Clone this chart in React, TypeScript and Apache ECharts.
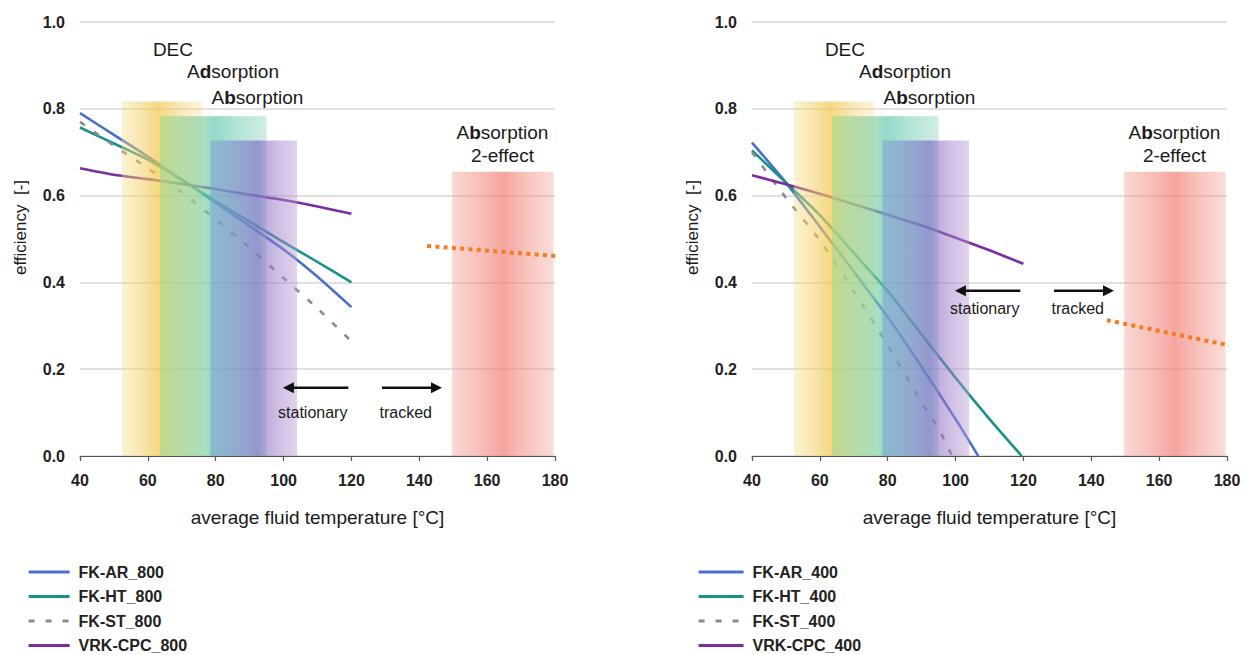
import React, { useEffect, useRef } from 'react';
import * as echarts from 'echarts';

// ---------- data ----------
const temps = [40, 50, 60, 70, 80, 90, 100, 110, 120];
const fkAr800 = [0.79, 0.74, 0.69, 0.637, 0.583, 0.53, 0.476, 0.413, 0.343];
const fkHt800 = [0.757, 0.72, 0.683, 0.636, 0.587, 0.54, 0.493, 0.447, 0.4];
const fkSt800 = [0.77, 0.715, 0.663, 0.607, 0.545, 0.48, 0.41, 0.34, 0.264];
const vrk800 = [0.663, 0.648, 0.638, 0.627, 0.615, 0.602, 0.59, 0.575, 0.558];

const arX400 = [40, 50, 60, 70, 80, 90, 100, 106.7];
const fkAr400 = [0.722, 0.63, 0.528, 0.425, 0.32, 0.205, 0.085, 0.0];
const htX400 = [40, 50, 60, 70, 80, 90, 100, 110, 119.5];
const fkHt400 = [0.704, 0.63, 0.555, 0.468, 0.38, 0.28, 0.18, 0.085, 0.0];
const stX400 = [40, 50, 60, 70, 80, 90, 95, 99];
const fkSt400 = [0.7, 0.595, 0.497, 0.38, 0.255, 0.123, 0.063, 0.0];
const vrk400 = [0.647, 0.626, 0.604, 0.58, 0.556, 0.531, 0.503, 0.474, 0.443];

const orangeX800 = [142.3, 185];
const orange800 = [0.484, 0.458];
const orangeX400 = [144.6, 184.4];
const orange400 = [0.313, 0.249];

const bandStart = [52.3, 63.6, 78.4, 149.7];
const bandEnd = [76.3, 95.0, 104.0, 179.6];
const bandTop = [0.817, 0.783, 0.727, 0.655];

const bandLabels = [
  '{n|DEC}',
  '{n|A}{b|d}{n|sorption}',
  '{n|A}{b|b}{n|sorption}',
  '{n|A}{b|b}{n|sorption}\n{n|2-effect}',
];
const bandLabelX = [67.4, 85.1, 92.3, 164.5];
const bandLabelY = [0.937, 0.887, 0.826, 0.718];

const arrowTail = [119.1, 129.0];
const arrowTip = [99.8, 146.7];
const arrowY800 = 0.157;
const arrowY400 = 0.381;
const arrowLabels = ['stationary', 'tracked'];
const arrowLabelX = [108.6, 136.0];
const arrowLabelY800 = 0.1;
const arrowLabelY400 = 0.341;

const xTicks = { min: 40, max: 180, interval: 20 };
const yTicks = { min: 0, max: 1, interval: 0.2 };

// ---------- styles ----------
const FONT = "'Liberation Sans', Arial, Helvetica, sans-serif";
const C_AR = '#4a70c8';
const C_HT = '#1a9189';
const C_ST = '#8a8a8a';
const C_VRK = '#7b2d9f';
const C_OR = '#f47b20';

const bandStops = [
  [
    { offset: 0, color: 'rgba(247,218,130,0.35)' },
    { offset: 0.45, color: 'rgba(240,200,80,0.72)' },
    { offset: 1, color: 'rgba(247,222,150,0.3)' },
  ],
  [
    { offset: 0, color: 'rgba(160,215,140,0.6)' },
    { offset: 0.4, color: 'rgba(120,205,160,0.62)' },
    { offset: 0.5, color: 'rgba(95,200,175,0.68)' },
    { offset: 1, color: 'rgba(150,215,195,0.45)' },
  ],
  [
    { offset: 0, color: 'rgba(130,150,210,0.45)' },
    { offset: 0.55, color: 'rgba(115,100,195,0.62)' },
    { offset: 0.65, color: 'rgba(140,110,195,0.55)' },
    { offset: 1, color: 'rgba(190,160,215,0.45)' },
  ],
  [
    { offset: 0, color: 'rgba(245,160,150,0.42)' },
    { offset: 0.5, color: 'rgba(240,118,108,0.66)' },
    { offset: 1, color: 'rgba(245,165,155,0.38)' },
  ],
];

const pairs = (xs: number[], ys: number[]) => xs.map((x, i) => [x, ys[i]]);

function buildPanel(idx: number) {
  const is800 = idx === 0;
  const suffix = is800 ? '_800' : '_400';
  const ax = { xAxisIndex: idx, yAxisIndex: idx };
  const lineBase = (name: string, color: string, data: number[][], dashed = false) => ({
    type: 'line',
    name,
    ...ax,
    data,
    symbol: 'none',
    smooth: 0.2,
    z: 2,
    lineStyle: { color, width: 2.6, type: dashed ? [6, 11] : 'solid' },
    itemStyle: { color },
  });
  const series: any[] = [
    lineBase('FK-AR' + suffix, C_AR, is800 ? pairs(temps, fkAr800) : pairs(arX400, fkAr400)),
    lineBase('FK-HT' + suffix, C_HT, is800 ? pairs(temps, fkHt800) : pairs(htX400, fkHt400)),
    lineBase('FK-ST' + suffix, C_ST, is800 ? pairs(temps, fkSt800) : pairs(stX400, fkSt400), true),
    lineBase('VRK-CPC' + suffix, C_VRK, is800 ? pairs(temps, vrk800) : pairs(temps, vrk400)),
    {
      type: 'line',
      name: 'orange' + suffix,
      ...ax,
      data: is800 ? pairs(orangeX800, orange800) : pairs(orangeX400, orange400),
      symbol: 'none',
      clip: false,
      z: 4,
      lineStyle: { color: C_OR, width: 4, type: [4, 4.3], cap: 'butt' },
    },
    {
      type: 'custom',
      name: 'bands' + suffix,
      ...ax,
      z: 3,
      clip: false,
      encode: { x: [0, 1], y: 2 },
      data: bandStart.map((s, i) => [s, bandEnd[i], bandTop[i], i]),
      renderItem: (params: any, api: any) => {
        const i = api.value(3);
        const p0 = api.coord([api.value(0), api.value(2)]);
        const p1 = api.coord([api.value(1), 0]);
        return {
          type: 'rect',
          shape: { x: p0[0], y: p0[1], width: p1[0] - p0[0], height: p1[1] - p0[1] },
          style: { fill: new echarts.graphic.LinearGradient(0, 0, 1, 0, bandStops[i]) },
        };
      },
    },
    {
      type: 'custom',
      name: 'bandLabels' + suffix,
      ...ax,
      z: 5,
      clip: false,
      encode: { x: 0, y: 1 },
      data: bandLabelX.map((x, i) => [x, bandLabelY[i], i]),
      renderItem: (params: any, api: any) => {
        const i = api.value(2);
        const p = api.coord([api.value(0), api.value(1)]);
        return {
          type: 'text',
          x: p[0],
          y: p[1],
          style: {
            text: bandLabels[i],
            fill: '#1a1a1a',
            align: 'center',
            verticalAlign: 'middle',
            fontSize: 19,
            fontFamily: FONT,
            lineHeight: 23,
            rich: {
              n: { fontSize: 19, fontFamily: FONT, fontWeight: 'normal', fill: '#1a1a1a', lineHeight: 23 },
              b: { fontSize: 19, fontFamily: FONT, fontWeight: 'bold', fill: '#1a1a1a', lineHeight: 23 },
            },
          },
        };
      },
    },
    {
      type: 'custom',
      name: 'arrows' + suffix,
      ...ax,
      z: 5,
      clip: false,
      encode: { x: [0, 1], y: 2 },
      data: arrowTail.map((t, i) => [t, arrowTip[i], is800 ? arrowY800 : arrowY400]),
      renderItem: (params: any, api: any) => {
        const a = api.coord([api.value(0), api.value(2)]);
        const b = api.coord([api.value(1), api.value(2)]);
        const dir = b[0] > a[0] ? 1 : -1;
        const hl = 11;
        const hh = 5.5;
        return {
          type: 'group',
          children: [
            {
              type: 'line',
              shape: { x1: a[0], y1: a[1], x2: b[0] - dir * hl + dir, y2: b[1] },
              style: { stroke: '#111', lineWidth: 2.5 },
            },
            {
              type: 'polygon',
              shape: { points: [[b[0], b[1]], [b[0] - dir * hl, b[1] - hh], [b[0] - dir * hl, b[1] + hh]] },
              style: { fill: '#111' },
            },
          ],
        };
      },
    },
    {
      type: 'custom',
      name: 'arrowLabels' + suffix,
      ...ax,
      z: 5,
      clip: false,
      encode: { x: 0, y: 1 },
      data: arrowLabelX.map((x, i) => [x, is800 ? arrowLabelY800 : arrowLabelY400, i]),
      renderItem: (params: any, api: any) => {
        const i = api.value(2);
        const p = api.coord([api.value(0), api.value(1)]);
        return {
          type: 'text',
          x: p[0],
          y: p[1],
          style: {
            text: arrowLabels[i],
            fill: '#1a1a1a',
            align: 'center',
            verticalAlign: 'middle',
            fontSize: 16,
            fontFamily: FONT,
          },
        };
      },
    },
  ];
  return series;
}

const axisX = (gridIndex: number) => ({
  type: 'value',
  gridIndex,
  ...xTicks,
  name: 'average fluid temperature [°C]',
  nameLocation: 'middle',
  nameGap: 52,
  nameTextStyle: { fontSize: 19, fontFamily: FONT, color: '#1a1a1a' },
  axisLine: { show: true, lineStyle: { color: '#555', width: 1.2 } },
  axisTick: { show: true, length: 5, lineStyle: { color: '#555', width: 1.2 } },
  axisLabel: { fontSize: 16, fontWeight: 'bold', fontFamily: FONT, color: '#222', margin: 16 },
  splitLine: { show: false },
});

const axisY = (gridIndex: number) => ({
  type: 'value',
  gridIndex,
  ...yTicks,
  name: 'efficiency  [-]',
  nameLocation: 'middle',
  nameGap: 51,
  nameTextStyle: { fontSize: 17, fontFamily: FONT, color: '#1a1a1a', padding: [0, 0, 0, 23] },
  axisLine: { show: false },
  axisTick: { show: false },
  axisLabel: {
    fontSize: 16,
    fontWeight: 'bold',
    fontFamily: FONT,
    color: '#222',
    margin: 15,
    formatter: (v: number) => v.toFixed(1),
  },
  splitLine: { show: true, lineStyle: { color: '#d6d6d6', width: 1.5 } },
});

const legendBase = (left: number, names: string[], itemWidth: number) => ({
  data: names,
  orient: 'vertical',
  left,
  top: 564,
  height: 200,
  padding: 0,
  itemWidth,
  itemHeight: 12,
  itemGap: 8.5,
  selectedMode: false,
  itemStyle: { opacity: 0, color: 'rgba(0,0,0,0)', borderWidth: 0 },
  lineStyle: { width: 3.2 },
  textStyle: { fontSize: 16, fontWeight: 'bold', fontFamily: FONT, color: '#222', padding: [0, 0, 0, 4] },
});

export default function App() {
  const ref = useRef<HTMLDivElement>(null);
  useEffect(() => {
    document.body.style.margin = '0';
    const chart = echarts.init(ref.current!, undefined, { renderer: 'svg' });
    chart.setOption({
      animation: false,
      backgroundColor: '#ffffff',
      grid: [
        { left: 80, top: 22, width: 475, height: 434, containLabel: false },
        { left: 752, top: 22, width: 475, height: 434, containLabel: false },
      ],
      xAxis: [axisX(0), axisX(1)],
      yAxis: [axisY(0), axisY(1)],
      legend: [
        legendBase(27, ['FK-AR_800', 'FK-HT_800', 'FK-ST_800', 'VRK-CPC_800'], 41),
        legendBase(697, ['FK-AR_400', 'FK-HT_400', 'FK-ST_400', 'VRK-CPC_400'], 45),
      ],
      series: [...buildPanel(0), ...buildPanel(1)],
    });
    return () => chart.dispose();
  }, []);
  return <div ref={ref} style={{ width: 1248, height: 655 }} />;
}
